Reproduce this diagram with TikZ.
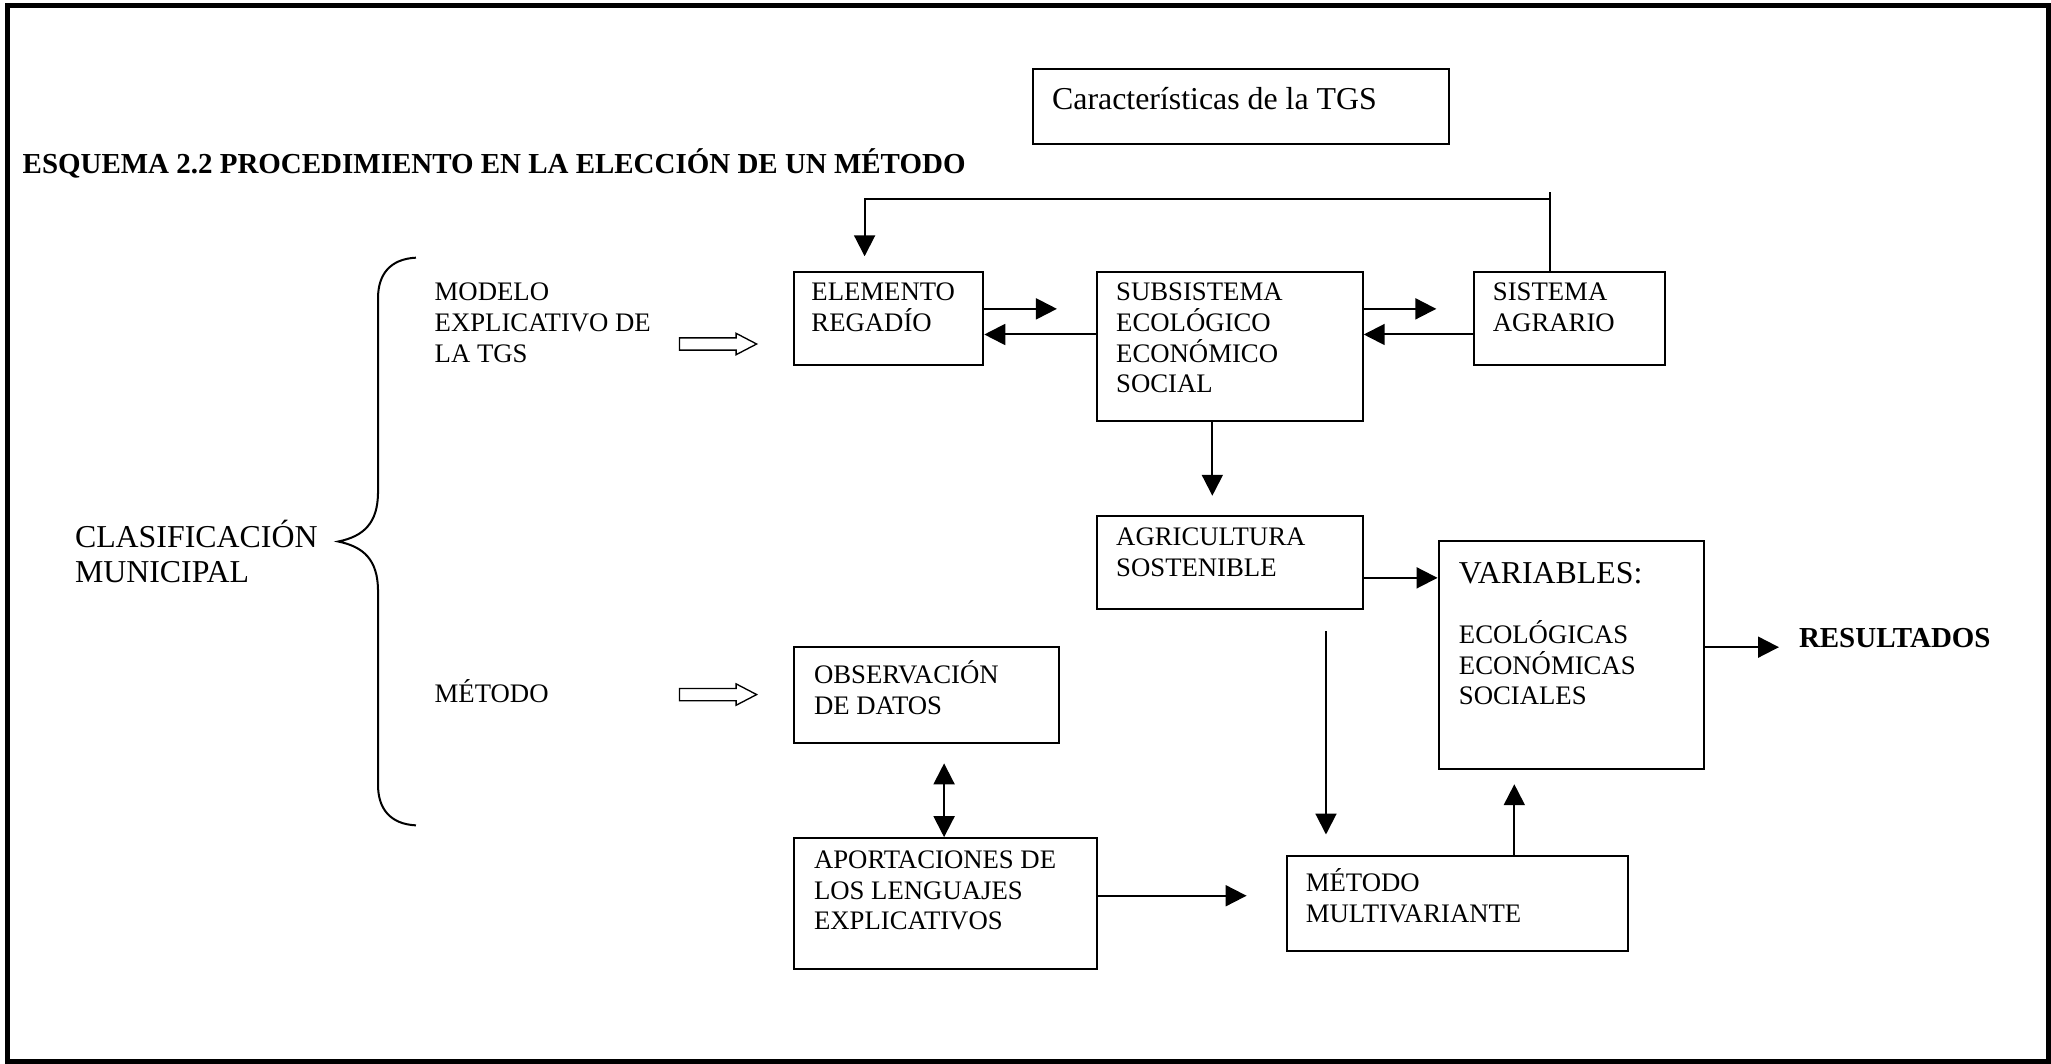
\documentclass[tikz,border=0pt]{standalone}
\usepackage{fontspec}
\setmainfont{Liberation Serif}
\usetikzlibrary{arrows.meta, shapes.arrows}

\tikzset{
    box/.style={draw, line width=0.9pt, anchor=north west, inner sep=0pt},
    txt/.style={anchor=north west, inner sep=0pt, align=left,
        font=\fontsize{12}{13.8}\selectfont, execute at begin node=\strut},
    big/.style={font=\fontsize{14.3}{13.8}\selectfont},
    bold/.style={font=\bfseries\fontsize{13}{13.8}\selectfont},
    arr/.style={line width=0.9pt, -{Triangle[length=9.4pt,width=9.4pt]}},
    hollow/.style={single arrow, draw, line width=0.6pt, inner sep=2.45pt,
        single arrow head extend=2.05pt, single arrow tip angle=55,
        minimum height=34.6pt, anchor=west},
}

\begin{document}
\begin{tikzpicture}[x=0.587pt, y=-0.587pt]
    \useasboundingbox (0,0) rectangle (1568,813);
    \draw[line width=2.25pt] (5.7,4.1) rectangle (1566,811.6);

    % titles
    \node[txt, bold] (title) at (17,113)
        {ESQUEMA 2.2 PROCEDIMIENTO EN LA ELECCIÓN DE UN MÉTODO};
    \node[box, minimum width=186.7pt, minimum height=33.5pt] (carac) at (789,52) {};
    \node[txt, big] (carac-t) at (804,66.5) {Características de la TGS};

    % left side
    \node[txt, font=\fontsize{14.3}{15.7}\selectfont] (clasif) at (57,397.5) {CLASIFICACIÓN\\MUNICIPAL};
    \draw[line width=0.9pt] (318,197) .. controls (298,198) and (289,210) .. (289,228)
        -- (289,376) .. controls (289,400) and (278,410) .. (258.6,414)
        .. controls (278,418) and (289,428) .. (289,452)
        -- (289,600) .. controls (289,618) and (298,630) .. (318,631);
    \node[txt] (modelo) at (332,216) {MODELO\\EXPLICATIVO DE\\LA TGS};
    \node[txt] (metodo) at (332,519) {MÉTODO};
    \node[hollow] (harr1) at (519,263) {};
    \node[hollow] (harr2) at (519,531) {};

    % boxes
    \node[box, minimum width=85.1pt, minimum height=41.7pt] (elem) at (606,207) {};
    \node[txt] (elem-t) at (620,216) {ELEMENTO\\REGADÍO};
    \node[box, minimum width=119.2pt, minimum height=66.9pt] (subs) at (838,207) {};
    \node[txt] (subs-t) at (853,216) {SUBSISTEMA\\ECOLÓGICO\\ECONÓMICO\\SOCIAL};
    \node[box, minimum width=85.7pt, minimum height=41.7pt] (sist) at (1126,207) {};
    \node[txt] (sist-t) at (1141,216) {SISTEMA\\AGRARIO};
    \node[box, minimum width=119.2pt, minimum height=41.7pt] (agri) at (838,394) {};
    \node[txt] (agri-t) at (853,403) {AGRICULTURA\\SOSTENIBLE};
    \node[box, minimum width=119.2pt, minimum height=102.1pt] (vars) at (1099,413) {};
    \node[txt, big] (vars-t) at (1115,429) {VARIABLES:};
    \node[txt] (vars-l) at (1115,474) {ECOLÓGICAS\\ECONÓMICAS\\SOCIALES};
    \node[txt, bold] (result) at (1375,478) {RESULTADOS};
    \node[box, minimum width=119.2pt, minimum height=42.9pt] (obs) at (606,494) {};
    \node[txt] (obs-t) at (622,505) {OBSERVACIÓN\\DE DATOS};
    \node[box, minimum width=136.2pt, minimum height=58.7pt] (apor) at (606,640) {};
    \node[txt] (apor-t) at (622,650) {APORTACIONES DE\\LOS LENGUAJES\\EXPLICATIVOS};
    \node[box, minimum width=153.2pt, minimum height=42.3pt] (multi) at (983,654) {};
    \node[txt] (multi-t) at (998,664) {MÉTODO\\MULTIVARIANTE};

    % connectors
    \coordinate (fbtop) at (1185,147);
    \coordinate (fbleft) at (661,152);
    \draw[line width=0.9pt] (fbtop |- sist.north) -- (fbtop);
    \draw[arr, shorten >=6.5pt] (fbtop |- fbleft) -- (fbleft) -- (fbleft |- elem.north);

    \draw[arr, shorten >=17.6pt] ([yshift=4.2pt]elem.east) -- ([yshift=4.2pt]elem.east -| subs.west);
    \draw[arr] ([yshift=-7.3pt]elem.east -| subs.west) -- ([yshift=-7.3pt]elem.east);
    \draw[arr, shorten >=16.4pt] ([yshift=4.2pt]elem.east -| subs.east) -- ([yshift=4.2pt]elem.east -| sist.west);
    \draw[arr] ([yshift=-7.3pt]elem.east -| sist.west) -- ([yshift=-7.3pt]elem.east -| subs.east);

    \draw[arr, shorten >=8.8pt] ([xshift=-7.9pt]subs.south) -- ([xshift=-7.9pt]subs.south |- agri.north);
    \draw[arr] ([yshift=-6.75pt]agri.east) -- ([yshift=-6.75pt]agri.east -| vars.west);
    \draw[arr, shorten >=8.8pt] ([yshift=3.5pt]vars.east) -- ([yshift=3.5pt]vars.east -| result.west);
    \draw[arr, shorten <=9.4pt, shorten >=9.4pt] ([xshift=43.1pt]agri.south) -- ([xshift=43.1pt]agri.south |- multi.north);
    \draw[arr, shorten >=6.5pt] ([xshift=25.5pt]multi.north) -- ([xshift=25.5pt]multi.north |- vars.south);
    \draw[line width=0.9pt, {Triangle[length=9.4pt,width=9.4pt]}-{Triangle[length=9.4pt,width=9.4pt]}, shorten <=8.8pt]
        ([xshift=7.9pt]obs.south) -- ([xshift=7.9pt]obs.south |- apor.north);
    \draw[arr, shorten >=17.6pt] ([yshift=3.5pt]apor.east) -- ([yshift=3.5pt]apor.east -| multi.west);
\end{tikzpicture}
\end{document}
